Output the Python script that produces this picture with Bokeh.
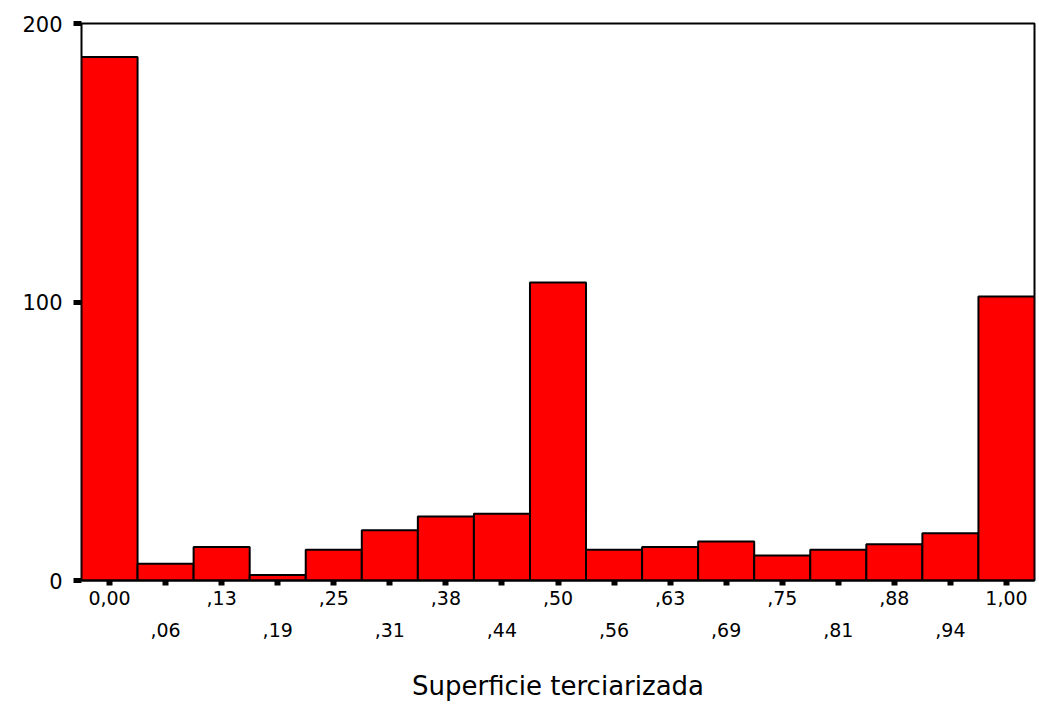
from bokeh.plotting import figure
from bokeh.models import LinearAxis, FixedTicker, Range1d
from bokeh.embed import file_html
from bokeh.resources import INLINE

# Histogram data: bin centers, counts and tick labels
bin_centers = [0.0, 0.0625, 0.125, 0.1875, 0.25, 0.3125, 0.375, 0.4375, 0.5,
               0.5625, 0.625, 0.6875, 0.75, 0.8125, 0.875, 0.9375, 1.0]
counts = [188, 6, 12, 2, 11, 18, 23, 24, 107, 11, 12, 14, 9, 11, 13, 17, 102]
tick_labels = ["0,00", ",06", ",13", ",19", ",25", ",31", ",38", ",44", ",50",
               ",56", ",63", ",69", ",75", ",81", ",88", ",94", "1,00"]
bin_width = 0.0625
y_ticks = [0, 100, 200]
x_title = "Superficie terciarizada"

FONT = "DejaVu Sans"

p = figure(width=1039, height=709,
           x_range=Range1d(-bin_width / 2, 1 + bin_width / 2),
           y_range=Range1d(0, 200),
           x_axis_location=None, y_axis_location=None,
           output_backend="svg", toolbar_location=None,
           min_border_left=81, min_border_right=5,
           min_border_top=23, min_border_bottom=129)

p.xgrid.visible = False
p.ygrid.visible = False
p.background_fill_color = "white"
p.border_fill_color = "white"
p.outline_line_color = "black"
p.outline_line_width = 2
p.outline_line_alpha = 1.0

lefts = [c - bin_width / 2 for c in bin_centers]
rights = [c + bin_width / 2 for c in bin_centers]
p.quad(left=lefts, right=rights, bottom=0, top=counts,
       fill_color="#FF0000", line_color="black", line_width=2)

# Y axis
ya = LinearAxis(ticker=FixedTicker(ticks=y_ticks))
ya.axis_line_color = None
ya.major_tick_in = 0
ya.major_tick_out = 8
ya.major_tick_line_width = 5
ya.major_tick_line_color = "black"
ya.minor_tick_line_color = None
ya.major_label_standoff = 11
ya.major_label_text_font = FONT
ya.major_label_text_font_size = "21px"
ya.major_label_text_color = "black"
p.add_layout(ya, "left")

# X axis, first row (even labels) with all tick marks
even_over = {c: (lab if i % 2 == 0 else "") for i, (c, lab) in enumerate(zip(bin_centers, tick_labels))}
xa = LinearAxis(ticker=FixedTicker(ticks=bin_centers), major_label_overrides=even_over)
xa.axis_line_color = "black"
xa.axis_line_width = 2
xa.major_tick_in = 0
xa.major_tick_out = 5
xa.major_tick_line_width = 6
xa.major_tick_line_color = "black"
xa.minor_tick_line_color = None
xa.major_label_standoff = 5
xa.major_label_text_font = FONT
xa.major_label_text_font_size = "19px"
xa.major_label_text_color = "black"
p.add_layout(xa, "below")

# X axis, second row (odd labels) plus title
odd_centers = [c for i, c in enumerate(bin_centers) if i % 2 == 1]
odd_over = {c: lab for i, (c, lab) in enumerate(zip(bin_centers, tick_labels)) if i % 2 == 1}
xb = LinearAxis(ticker=FixedTicker(ticks=odd_centers), major_label_overrides=odd_over)
xb.axis_line_color = None
xb.major_tick_line_color = None
xb.minor_tick_line_color = None
xb.major_tick_in = 0
xb.major_tick_out = 0
xb.major_label_standoff = 15
xb.major_label_text_font = FONT
xb.major_label_text_font_size = "19px"
xb.major_label_text_color = "black"
xb.axis_label = x_title
xb.axis_label_text_font = FONT
xb.axis_label_text_font_size = "26px"
xb.axis_label_text_font_style = "normal"
xb.axis_label_text_color = "black"
xb.axis_label_standoff = 31
p.add_layout(xb, "below")

open("out.html", "w").write(file_html(p, INLINE))
